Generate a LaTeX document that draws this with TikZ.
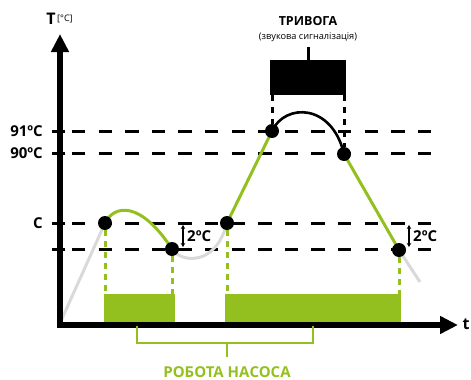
\documentclass[tikz,border=0pt]{standalone}
\usepackage{fontspec}
\setmainfont{Open Sans}
\usetikzlibrary{arrows.meta}
\definecolor{pumpgreen}{RGB}{147,192,31}
\definecolor{idlegray}{RGB}{217,217,217}
\pgfdeclarelayer{grid}
\pgfdeclarelayer{curve}
\pgfsetlayers{grid,curve,main}
\tikzset{
  axisline/.style={line width=5.5pt, line join=miter,
    {Triangle[length=18pt,width=17pt]}-{Triangle[length=18pt,width=17pt]}},
  levelline/.style={line width=3pt, dash pattern=on 13.3pt off 13.3pt},
  levtick/.style={line width=3pt},
  greenpath/.style={pumpgreen, line width=3pt},
  graypath/.style={idlegray, line width=3pt},
  blackpath/.style={black, line width=2.6pt},
  greendots/.style={pumpgreen, line width=3pt, dash pattern=on 6pt off 5pt},
  blackdots/.style={black, line width=3pt, dash pattern=on 6pt off 6pt},
  dot/.style={circle, fill=black, inner sep=0pt, minimum size=14pt},
  pumpbar/.style={fill=pumpgreen, draw=none},
  lab/.style={font=\bfseries\fontsize{15}{15}\selectfont, inner sep=0pt},
  gapmark/.style={line width=1.3pt, {Stealth[length=4pt,width=4.5pt]}-{Stealth[length=4pt,width=4.5pt]}},
}
\begin{document}
\begin{tikzpicture}[x=1pt, y=-1pt]
\useasboundingbox (0,0) rectangle (471,380);

% temperature levels
\begin{pgfonlayer}{grid}
\foreach \yy/\nm in {131/a, 153/b, 223/c, 249/d} {
  \coordinate (t\nm l) at (52,\yy);
  \coordinate (t\nm r) at (65,\yy);
  \coordinate (h\nm l) at (72,\yy);
  \coordinate (h\nm r) at (431,\yy);
  \draw[levtick] (t\nm l) -- (t\nm r);
  \draw[levelline] (h\nm l) -- (h\nm r);
}
% pump running periods
\node[pumpbar, minimum width=71pt, minimum height=31pt, inner sep=0pt] (bar1) at (139.5,309.5) {};
\node[pumpbar, minimum width=176pt, minimum height=31pt, inner sep=0pt] (bar2) at (313,309.5) {};
\end{pgfonlayer}

\node[lab, anchor=east] (l91) at (43,131) {91ºC};
\node[lab, anchor=east] (l90) at (43,153) {90ºC};
\node[lab, anchor=east] (lc) at (43,223) {C};

% switching points
\node[dot] (p1) at (105,223) {};
\node[dot] (p2) at (172,249) {};
\node[dot] (p3) at (227,223) {};
\node[dot] (p4) at (272,131) {};
\node[dot] (p5) at (344,154) {};
\node[dot] (p6) at (399,250) {};

\coordinate (o) at (61,321);
\coordinate (tail) at (420,282);

% alarm box
\node[fill=black, minimum width=76pt, minimum height=35pt, inner sep=0pt] (alarm) at (308,77.5) {};
\coordinate (alarmtop) at (308,47);
\draw[line width=3pt] (alarm.north) -- (alarmtop);
\node[font=\bfseries\fontsize{12.5}{12.5}\selectfont, inner sep=0pt] (alarmt) at (308,21) {ТРИВОГА};
\node[font=\fontsize{9.2}{9.2}\selectfont, inner sep=0pt] (alarms) at (308,37) {(звукова сигналізація)};
\coordinate (al) at (272,95);
\coordinate (ar) at (344,95);

\begin{pgfonlayer}{curve}
% temperature curve
\draw[graypath] (o) -- (p1.center);
\draw[greenpath] (p1.center) .. controls (114,205) and (140,200) .. (p2.center);
\draw[graypath] (p2.center) .. controls (180,262) and (215,268) .. (p3.center);
\draw[greenpath] (p3.center) -- (p4.center);
\draw[blackpath] (p4.center) .. controls (285,103) and (332,103) .. (p5.center);
\draw[greenpath] (p5.center) -- (p6.center);
\draw[graypath] (p6.center) -- (tail);
% drop lines to the pump bars
\foreach \p/\xx in {p1/105, p2/172, p3/227, p6/399} {
  \coordinate (\p b) at (\xx,294);
  \draw[greendots] (\p) -- (\p b);
}
% alarm drop lines
\draw[blackdots] (al) -- (p4);
\draw[blackdots] (ar) -- (p5);
\end{pgfonlayer}

% hysteresis marks
\coordinate (g1t) at (183,225);
\coordinate (g1b) at (183,247);
\draw[gapmark] (g1t) -- (g1b);
\node[lab, anchor=west] (g1) at (187,236) {2ºC};
\coordinate (g2t) at (409,225);
\coordinate (g2b) at (409,247);
\draw[gapmark] (g2t) -- (g2b);
\node[lab, anchor=west] (g2) at (413,236) {2ºC};

% axes
\coordinate (ytop) at (60,34);
\coordinate (orig) at (60,325);
\coordinate (xend) at (458,325);
\draw[axisline] (ytop) -- (orig) -- (xend);
\node[font=\bfseries\fontsize{16}{16}\selectfont, inner sep=0pt] (tlab) at (51,19) {T};
\node[font=\fontsize{9}{9}\selectfont, inner sep=0pt, anchor=west] (tunit) at (57,19) {[°C]};
\node[font=\bfseries\fontsize{16}{16}\selectfont, inner sep=0pt] (xlab) at (466,324) {t};

% pump bracket
\coordinate (bl) at (137,326);
\coordinate (br) at (313,326);
\coordinate (bm) at (227,343);
\coordinate (bs) at (227,357);
\draw[pumpgreen, line width=2pt] (bl) |- (bm) -| (br);
\draw[pumpgreen, line width=2pt] (bm) -- (bs);
\node[font=\bfseries\fontsize{15}{15}\selectfont, text=pumpgreen, inner sep=0pt] (pumplab) at (227,372) {РОБОТА НАСОСА};
\end{tikzpicture}
\end{document}
